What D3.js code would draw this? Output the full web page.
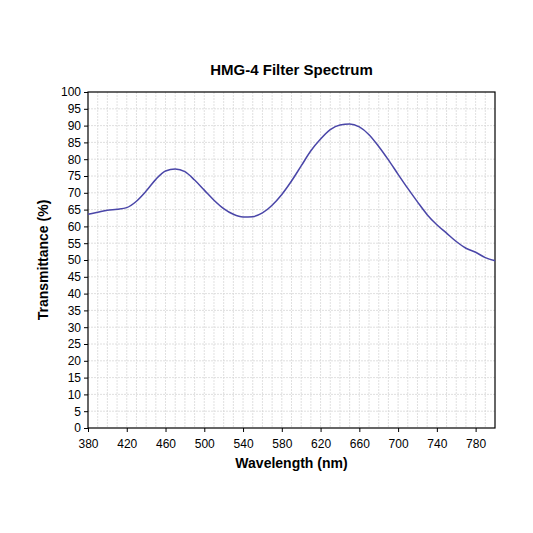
<!doctype html>
<html>
<head>
<meta charset="utf-8">
<style>body{margin:0;background:#fff}</style>
</head>
<body>
<div id="here"></div>
<script src="https://d3js.org/d3.v7.min.js"></script>
<script>
var wavelengths = [380,390,400,410,420,430,440,450,460,470,480,490,500,510,520,530,540,550,560,570,580,590,600,610,620,630,640,650,660,670,680,690,700,710,720,730,740,750,760,770,780,790,800];
var transmittance = [63.6,64.2,64.8,65.1,65.6,67.5,70.5,74,76.5,77.1,76.3,73.8,70.8,67.8,65.3,63.6,62.8,62.9,64,66.3,69.5,73.5,78,82.5,86,88.8,90.2,90.5,89.6,87.3,83.8,79.8,75.5,71.3,67.3,63.5,60.5,58,55.5,53.5,52.3,50.7,49.8];
var xTicks = [380,420,460,500,540,580,620,660,700,740,780];
var yTicks = d3.range(0,101,5);

var W = 533, H = 533, pL = 88, pR = 495, pT = 92, pB = 428;
var svg = d3.select("#here").append("svg").attr("width", W).attr("height", H)
  .style("font-family","Liberation Sans, Arial, sans-serif");

var x = d3.scaleLinear().domain([380,800]).range([pL,pR]);
var y = d3.scaleLinear().domain([0,100]).range([pB,pT]);

// grid
svg.append("g").selectAll("line").data(d3.range(390,800,10)).enter().append("line")
  .attr("x1", d => x(d)).attr("x2", d => x(d)).attr("y1", pT).attr("y2", pB)
  .attr("stroke","#d8d8d8").attr("stroke-width",0.8).attr("stroke-dasharray","2,1");
svg.append("g").selectAll("line").data(d3.range(5,100,5)).enter().append("line")
  .attr("x1", pL).attr("x2", pR).attr("y1", d => y(d)).attr("y2", d => y(d))
  .attr("stroke","#d8d8d8").attr("stroke-width",0.8).attr("stroke-dasharray","2,1");

svg.append("rect").attr("x",pL).attr("y",pT).attr("width",pR-pL).attr("height",pB-pT)
  .attr("fill","none").attr("stroke","#000").attr("stroke-width",1.2);

// axes
var xa = svg.append("g").attr("transform","translate(0,"+pB+")")
  .call(d3.axisBottom(x).tickValues(xTicks).tickSize(4).tickFormat(d3.format("d")));
var ya = svg.append("g").attr("transform","translate("+pL+",0)")
  .call(d3.axisLeft(y).tickValues(yTicks).tickSize(4).tickFormat(d3.format("d")));
[xa,ya].forEach(function(a){
  a.select(".domain").remove();
  a.selectAll("text").attr("font-size",12).attr("fill","#000");
  a.selectAll("line").attr("stroke","#000");
});
xa.selectAll("text").attr("dy","1.1em");

svg.append("path").datum(wavelengths)
  .attr("d", d3.line().x(d => x(d)).y((d,i) => y(transmittance[i])).curve(d3.curveMonotoneX))
  .attr("fill","none").attr("stroke","#4a46a8").attr("stroke-width",1.5);

svg.append("text").attr("x",(pL+pR)/2).attr("y",75).attr("text-anchor","middle")
  .attr("font-size",15).attr("font-weight","bold").text("HMG-4 Filter Spectrum");
svg.append("text").attr("x",(pL+pR)/2).attr("y",468).attr("text-anchor","middle")
  .attr("font-size",14).attr("font-weight","bold").text("Wavelength (nm)");
svg.append("text").attr("transform","translate(48,"+((pT+pB)/2)+") rotate(-90)").attr("text-anchor","middle")
  .attr("font-size",14).attr("font-weight","bold").text("Transmittance (%)");
</script>
</body>
</html>
